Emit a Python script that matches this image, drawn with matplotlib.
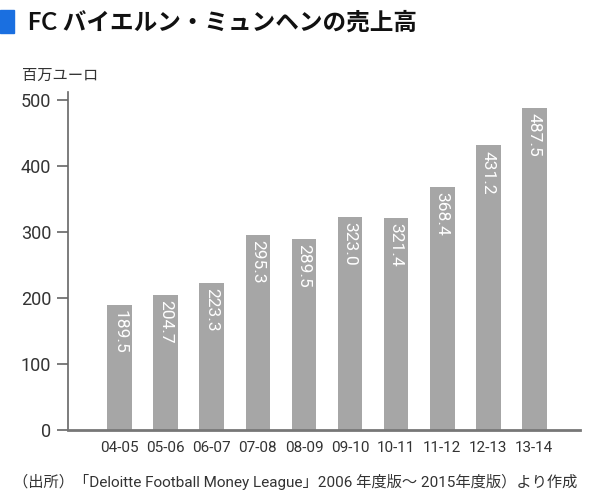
import matplotlib
matplotlib.use('Agg')
import numpy as np
from matplotlib import pyplot as plt
from matplotlib.patches import Rectangle

plt.rcParams['font.family'] = ['Roboto', 'Noto Sans CJK JP', 'DejaVu Sans']

seasons = ['04-05', '05-06', '06-07', '07-08', '08-09',
           '09-10', '10-11', '11-12', '12-13', '13-14']
revenue = [189.5, 204.7, 223.3, 295.3, 289.5, 323.0, 321.4, 368.4, 431.2, 487.5]
yticks = [0, 100, 200, 300, 400, 500]

title = 'FC バイエルン・ミュンヘンの売上高'
unit = '百万ユーロ'
source = '（出所）「Deloitte Football Money League」2006 年度版～ 2015年度版）より作成'

fig = plt.figure(figsize=(6, 4.96), dpi=100)
ax = fig.add_axes([0.113, 0.133, 0.854, 0.6815])

x = np.arange(len(seasons))
ax.bar(x, revenue, width=0.54, color='#a6a6a6', zorder=2)
for xi, v in zip(x, revenue):
    ax.text(xi, v - 8, f'{v:.1f}', rotation=-90, ha='center', va='top',
            color='white', fontsize=12.5, family=['Roboto', 'DejaVu Sans'])

ax.set_xlim(-1.13, 10.0)
ax.set_ylim(0, 512)
ax.set_xticks(x)
ax.set_xticklabels(seasons)
ax.set_yticks(yticks)
ax.tick_params(axis='x', length=0, pad=8, labelsize=11, labelcolor='#333333')
ax.tick_params(axis='y', length=8, width=1.2, color='#666666', pad=4,
               labelsize=13, labelcolor='#333333')
for s in ['top', 'right']:
    ax.spines[s].set_visible(False)
ax.spines['left'].set_color('#666666')
ax.spines['left'].set_linewidth(1.2)
ax.spines['bottom'].set_color('#777777')
ax.spines['bottom'].set_linewidth(2)

fig.patches.append(Rectangle((0, 1 - 33 / 496), 14 / 600, 23 / 496,
                             transform=fig.transFigure, color='#1a6fe0'))
fig.text(28 / 600, 1 - 22 / 496, title, fontsize=17, fontweight='bold',
         va='center', ha='left', color='#111111',
         family=['Lato', 'Noto Sans CJK JP'])
fig.text(22 / 600, 1 - 75 / 496, unit, fontsize=11, va='center', ha='left',
         color='#333333', family=['Noto Sans CJK JP'])
fig.text(295 / 600, 1 - 482 / 496, source, fontsize=11, va='center', ha='center',
         color='#333333', family=['Roboto', 'Noto Sans CJK JP'])

fig.savefig('out.png', dpi=100)
